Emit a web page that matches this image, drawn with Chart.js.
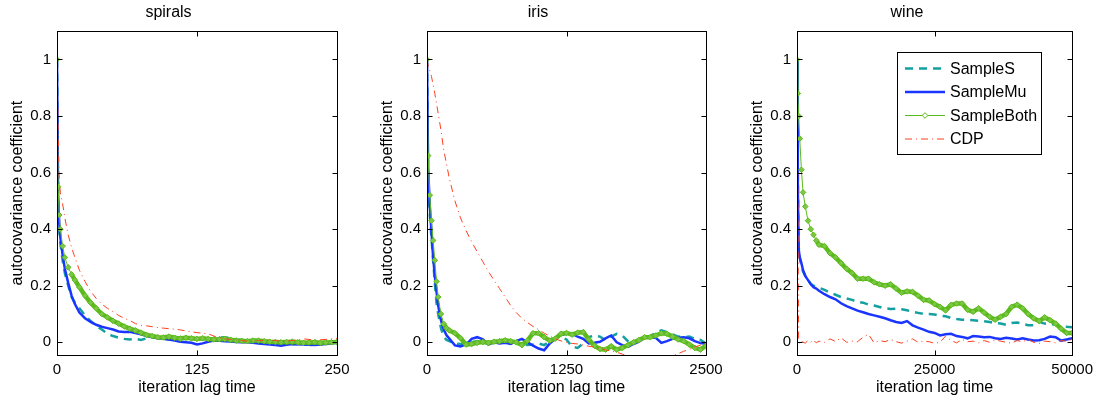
<!DOCTYPE html>
<html>
<head>
<meta charset="utf-8">
<script src="https://cdn.jsdelivr.net/npm/chart.js@4.4.1/dist/chart.umd.min.js"></script>
<style>
body { margin: 0; background: #fff; }
#wrap { position: relative; width: 1099px; height: 401px; overflow: hidden; }
canvas { position: absolute; top: 0; }
</style>
</head>
<body>
<div id="wrap">
  <canvas id="c1" width="362" height="401" style="left:0px"></canvas>
  <canvas id="c2" width="361" height="401" style="left:370px"></canvas>
  <canvas id="c3" width="359" height="401" style="left:740px"></canvas>
</div>
<script>
const FONT = '"Liberation Sans", Arial, Helvetica, sans-serif';

const seriesNames = ['SampleS', 'SampleMu', 'SampleBoth', 'CDP'];
const yTicks = [0, 0.2, 0.4, 0.6, 0.8, 1];

// spirals
const spiralsXTicks = [0, 125, 250];
const spiralsLag = [0,1,2,3,5,7,10,13,16,20,25,30,35,40,45,50,55,60,65,70,75,80,85,90,95,100,105,110,115,120,125,130,135,140,145,150,155,160,165,170,175,180,185,190,195,200,205,210,215,220,225,230,235,240,245,250];
const spiralsS = [1.0,0.46,0.40,0.35,0.29,0.245,0.20,0.16,0.14,0.12,0.095,0.075,0.058,0.045,0.03,0.022,0.016,0.012,0.01,0.012,0.008,0.014,0.018,0.015,0.012,0.01,0.014,0.012,0.016,0.014,0.01,0.012,0.014,0.015,0.017,0.018,0.014,0.01,0.008,0.006,0.004,0.002,0.001,0.0,-0.002,-0.004,-0.005,-0.006,-0.007,-0.008,-0.009,-0.01,-0.007,-0.004,0.0,0.004];
const spiralsMu = [1.0,0.52,0.42,0.37,0.31,0.26,0.21,0.165,0.135,0.105,0.085,0.072,0.062,0.055,0.05,0.045,0.038,0.036,0.037,0.033,0.028,0.022,0.018,0.014,0.012,0.01,0.006,0.002,0.0,-0.002,-0.008,-0.004,0.002,0.006,0.005,0.004,0.003,0.001,0.0,0.0,-0.002,-0.004,-0.006,-0.008,-0.01,-0.012,-0.009,-0.006,-0.007,-0.008,-0.009,-0.01,-0.008,-0.006,-0.004,-0.002];
const spiralsBoth = [1.0,0.55,0.45,0.40,0.34,0.30,0.265,0.24,0.22,0.195,0.165,0.14,0.12,0.10,0.088,0.076,0.066,0.056,0.048,0.042,0.034,0.026,0.022,0.018,0.017,0.02,0.016,0.013,0.016,0.014,0.012,0.014,0.012,0.01,0.011,0.012,0.009,0.006,0.005,0.004,0.006,0.006,0.004,0.002,0.001,0.0,0.001,0.002,0.0,-0.002,-0.001,0.0,-0.002,-0.001,0.0,0.001];
const spiralsCDP = [1.0,0.75,0.57,0.53,0.49,0.44,0.38,0.335,0.30,0.255,0.215,0.18,0.155,0.135,0.12,0.108,0.095,0.085,0.077,0.066,0.06,0.058,0.055,0.052,0.05,0.048,0.046,0.044,0.04,0.037,0.034,0.032,0.03,0.022,0.016,0.012,0.01,0.008,0.006,0.004,0.005,0.006,0.007,0.008,0.006,0.004,0.005,0.006,0.009,0.012,0.01,0.008,0.009,0.01,0.012,0.014];

// iris
const irisXTicks = [0, 1250, 2500];
const irisLag = [0,10,25,40,55,70,85,100,125,150,175,200,250,300,350,400,450,500,550,600,650,700,750,800,850,900,950,1000,1050,1100,1150,1200,1250,1300,1350,1400,1450,1500,1550,1600,1650,1700,1750,1800,1850,1900,1950,2000,2050,2100,2150,2200,2250,2300,2350,2400,2450,2500];
const irisS = [1.0,0.58,0.45,0.37,0.29,0.21,0.14,0.10,0.05,0.02,0.008,0.004,-0.005,-0.006,-0.004,0.0,0.004,0.0,-0.004,0.002,0.0,0.004,0.002,-0.002,-0.006,-0.01,-0.008,-0.004,-0.01,0.004,0.016,0.02,0.01,-0.016,-0.02,-0.004,0.018,0.024,0.02,0.008,0.02,0.03,0.024,0.004,-0.004,0.006,0.014,0.022,0.034,0.042,0.036,0.028,0.02,0.018,0.02,0.012,0.008,-0.004];
const irisMu = [1.0,0.62,0.48,0.39,0.30,0.235,0.18,0.13,0.078,0.045,0.025,0.013,-0.011,-0.015,-0.008,0.012,0.018,0.01,-0.008,0.0,-0.004,-0.002,-0.006,0.004,0.012,0.0,-0.012,-0.022,-0.028,-0.004,0.012,0.026,0.03,0.03,0.02,0.012,-0.004,-0.002,0.002,0.014,0.024,0.0,-0.01,-0.016,-0.006,0.002,0.016,0.018,0.016,-0.002,0.004,0.012,0.016,0.018,0.014,0.004,-0.003,-0.005];
const irisBoth = [1.0,0.66,0.52,0.43,0.36,0.29,0.215,0.16,0.10,0.065,0.05,0.042,0.032,0.015,-0.008,-0.006,-0.002,0.001,-0.002,0.002,0.004,0.007,0.004,0.0,-0.01,0.006,0.032,0.032,0.018,0.006,0.013,0.03,0.033,0.027,0.034,0.036,0.01,-0.012,-0.024,-0.026,-0.014,-0.026,-0.02,-0.01,0.0,0.008,0.018,0.018,0.024,0.032,0.03,0.02,0.01,0.004,-0.008,-0.02,-0.026,-0.012];
const irisCDP = [1.0,0.98,0.96,0.94,0.91,0.88,0.845,0.81,0.75,0.68,0.63,0.58,0.5,0.44,0.395,0.355,0.32,0.285,0.25,0.22,0.19,0.16,0.13,0.105,0.085,0.07,0.056,0.045,0.032,0.022,0.012,0.005,0.0,-0.004,-0.006,-0.01,-0.014,-0.017,-0.022,-0.027,-0.031,-0.035,-0.042,-0.05,-0.056,-0.06,-0.064,-0.066,-0.066,-0.062,-0.055,-0.048,-0.04,-0.032,-0.025,-0.017,-0.01,0.0];

// wine
const wineXTicks = [0, 25000, 50000];
const wineLag = [0,150,300,500,800,1100,1500,2000,2500,3000,3500,4000,5000,6000,7000,8000,9000,10000,11000,12000,13000,14000,15000,16000,17000,18000,19000,20000,21000,22000,23000,24000,25000,26000,27000,28000,29000,30000,31000,32000,33000,34000,35000,36000,37000,38000,39000,40000,41000,42000,43000,44000,45000,46000,47000,48000,49000,50000];
const wineS = [1.0,0.6,0.34,0.3,0.27,0.25,0.235,0.22,0.207,0.2,0.197,0.193,0.185,0.176,0.168,0.16,0.155,0.15,0.143,0.14,0.133,0.13,0.125,0.12,0.118,0.119,0.117,0.113,0.108,0.104,0.1,0.1,0.098,0.094,0.092,0.086,0.082,0.08,0.079,0.078,0.076,0.074,0.072,0.068,0.066,0.062,0.068,0.07,0.065,0.06,0.06,0.072,0.066,0.064,0.062,0.058,0.055,0.053];
const wineMu = [1.0,0.55,0.33,0.3,0.28,0.255,0.235,0.22,0.205,0.195,0.19,0.182,0.17,0.16,0.152,0.138,0.128,0.12,0.112,0.106,0.1,0.095,0.09,0.085,0.078,0.072,0.068,0.075,0.06,0.052,0.045,0.037,0.033,0.024,0.028,0.03,0.022,0.019,0.014,0.022,0.02,0.018,0.019,0.014,0.012,0.016,0.013,0.01,0.014,0.01,0.006,0.007,0.012,0.02,0.018,0.006,0.01,0.014];
const wineBoth = [1.0,0.88,0.8,0.72,0.61,0.53,0.48,0.43,0.4,0.38,0.36,0.345,0.34,0.315,0.3,0.28,0.26,0.245,0.225,0.225,0.225,0.212,0.205,0.2,0.205,0.19,0.175,0.18,0.178,0.165,0.15,0.148,0.135,0.125,0.113,0.132,0.137,0.137,0.115,0.108,0.12,0.105,0.09,0.08,0.09,0.1,0.125,0.133,0.12,0.1,0.085,0.075,0.088,0.078,0.066,0.048,0.033,0.033];
const wineCDP = [1.0,0.5,0.0,-0.005,0.004,0.0,-0.003,0.006,0.0,0.008,-0.002,0.004,0.0,0.012,0.003,0.016,0.0,0.004,0.002,0.018,0.028,-0.002,0.006,0.002,0.01,0.002,-0.003,0.004,0.012,0.0,0.004,0.002,-0.004,0.0,0.022,0.006,-0.002,0.01,0.002,0.004,-0.002,0.006,0.0,0.008,0.004,0.0,-0.003,0.006,0.002,0.01,0.0,-0.004,0.004,0.002,-0.002,0.006,0.004,0.01];

// line looks, same order as seriesNames
const styles = [
  {color: '#14a0a0', width: 2.5, dash: [8, 6]},
  {color: '#1a35ff', width: 2.5, dash: []},
  {color: '#5cbb1c', width: 1, dash: [], marker: true},
  {color: '#ff4020', width: 1, dash: [7, 4, 1, 4]}
];

// the marker series looks like a thick band where markers pile up, thin where it drops steeply
function markerBand(c) {
  const dx = Math.abs(c.p1.x - c.p0.x), dy = Math.abs(c.p1.y - c.p0.y);
  return dy > 2 * dx ? 1 : 4.5;
}

// matlab style box with inward ticks on all four sides
const boxPlugin = {
  id: 'box',
  afterDatasetsDraw(chart) {
    const {ctx, chartArea: a, scales} = chart;
    const l = Math.floor(a.left) + 0.5, r = Math.floor(a.right) + 0.5;
    const t = Math.floor(a.top) + 0.5, b = Math.floor(a.bottom) + 0.5;
    ctx.save();
    ctx.strokeStyle = '#000';
    ctx.lineWidth = 1;
    ctx.setLineDash([]);
    ctx.strokeRect(l, t, r - l, b - t);
    ctx.beginPath();
    scales.y.ticks.forEach(tk => {
      const y = Math.round(scales.y.getPixelForValue(tk.value)) + 0.5;
      ctx.moveTo(l, y); ctx.lineTo(l + 5, y);
      ctx.moveTo(r, y); ctx.lineTo(r - 5, y);
    });
    scales.x.ticks.forEach(tk => {
      const x = Math.round(scales.x.getPixelForValue(tk.value)) + 0.5;
      ctx.moveTo(x, b); ctx.lineTo(x, b - 5);
      ctx.moveTo(x, t); ctx.lineTo(x, t + 5);
    });
    ctx.stroke();
    ctx.restore();
  }
};

// legend box inside the wine panel
const legendPlugin = {
  id: 'innerLegend',
  afterDraw(chart) {
    const {ctx, chartArea: a} = chart;
    const bx = Math.round(a.left) + 100, by = Math.round(a.top) + 21;
    const bw = 144, bh = 102;
    ctx.save();
    ctx.fillStyle = '#fff';
    ctx.fillRect(bx, by, bw, bh);
    ctx.strokeStyle = '#000';
    ctx.lineWidth = 1;
    ctx.strokeRect(bx + 0.5, by + 0.5, bw, bh);
    chart.data.datasets.forEach((ds, i) => {
      const y = by + 16.5 + i * 23.5;
      ctx.strokeStyle = ds.borderColor;
      ctx.lineWidth = ds.borderWidth;
      ctx.setLineDash(ds.borderDash);
      ctx.beginPath();
      ctx.moveTo(bx + 8, y);
      ctx.lineTo(bx + 48, y);
      ctx.stroke();
      ctx.setLineDash([]);
      if (ds.pointRadius > 0) {
        const cx = bx + 28, rr = ds.pointRadius;
        ctx.fillStyle = '#fff';
        ctx.lineWidth = 1;
        ctx.beginPath();
        ctx.moveTo(cx, y - rr); ctx.lineTo(cx + rr, y); ctx.lineTo(cx, y + rr); ctx.lineTo(cx - rr, y);
        ctx.closePath();
        ctx.fill(); ctx.stroke();
      }
      ctx.fillStyle = '#000';
      ctx.font = '16px ' + FONT;
      ctx.textBaseline = 'middle';
      ctx.fillText(ds.label, bx + 53, y + 1);
    });
    ctx.restore();
  }
};

function makeChart(id, title, lags, seriesList, xMax, xTicks, extra) {
  const datasets = seriesList.map((vals, k) => {
    const st = styles[k];
    const ds = {
      label: seriesNames[k],
      data: lags.map((x, i) => ({x: x, y: vals[i]})),
      borderColor: st.color,
      backgroundColor: st.color,
      borderWidth: st.width,
      borderDash: st.dash,
      pointRadius: st.marker ? 2.8 : 0,
      pointStyle: 'rectRot',
      pointBorderWidth: 1,
      pointBorderColor: st.color,
      pointBackgroundColor: st.marker ? '#7cc846' : st.color,
      tension: 0,
      clip: 0,
      order: 4 - k
    };
    if (st.marker) ds.segment = {borderWidth: markerBand};
    return ds;
  });
  return new Chart(document.getElementById(id), {
    type: 'line',
    data: {datasets: datasets},
    options: {
      responsive: false,
      animation: false,
      devicePixelRatio: 1,
      layout: {padding: {left: 0, top: 0, right: 25, bottom: 0}},
      plugins: {
        legend: {display: false},
        tooltip: {enabled: false},
        title: {display: true, text: title, color: '#000',
          font: {family: FONT, size: 16, weight: 'normal'}, padding: {top: 3, bottom: 9}}
      },
      scales: {
        x: {
          type: 'linear', min: 0, max: xMax,
          afterBuildTicks: s => { s.ticks = xTicks.map(v => ({value: v})); },
          afterFit: s => { s.height = 46; },
          grid: {display: false, drawTicks: false},
          border: {display: false},
          ticks: {autoSkip: false, maxRotation: 0, padding: 6, color: '#000',
            font: {family: FONT, size: 15}, callback: v => String(v)},
          title: {display: true, text: 'iteration lag time', color: '#000',
            font: {family: FONT, size: 16}, padding: {top: 0, bottom: 4}}
        },
        y: {
          min: -0.045, max: 1.1,
          afterBuildTicks: s => { s.ticks = yTicks.map(v => ({value: v})); },
          afterFit: s => { s.width = 57; },
          grid: {display: false, drawTicks: false},
          border: {display: false},
          ticks: {padding: 6, color: '#000', font: {family: FONT, size: 15}, callback: v => String(v)},
          title: {display: true, text: 'autocovariance coefficient', color: '#000',
            font: {family: FONT, size: 16}, padding: {top: 8, bottom: 0}}
        }
      }
    },
    plugins: [boxPlugin].concat(extra || [])
  });
}

makeChart('c1', 'spirals', spiralsLag, [spiralsS, spiralsMu, spiralsBoth, spiralsCDP], 250, spiralsXTicks);
makeChart('c2', 'iris', irisLag, [irisS, irisMu, irisBoth, irisCDP], 2500, irisXTicks);
makeChart('c3', 'wine', wineLag, [wineS, wineMu, wineBoth, wineCDP], 50000, wineXTicks, [legendPlugin]);
</script>
</body>
</html>
